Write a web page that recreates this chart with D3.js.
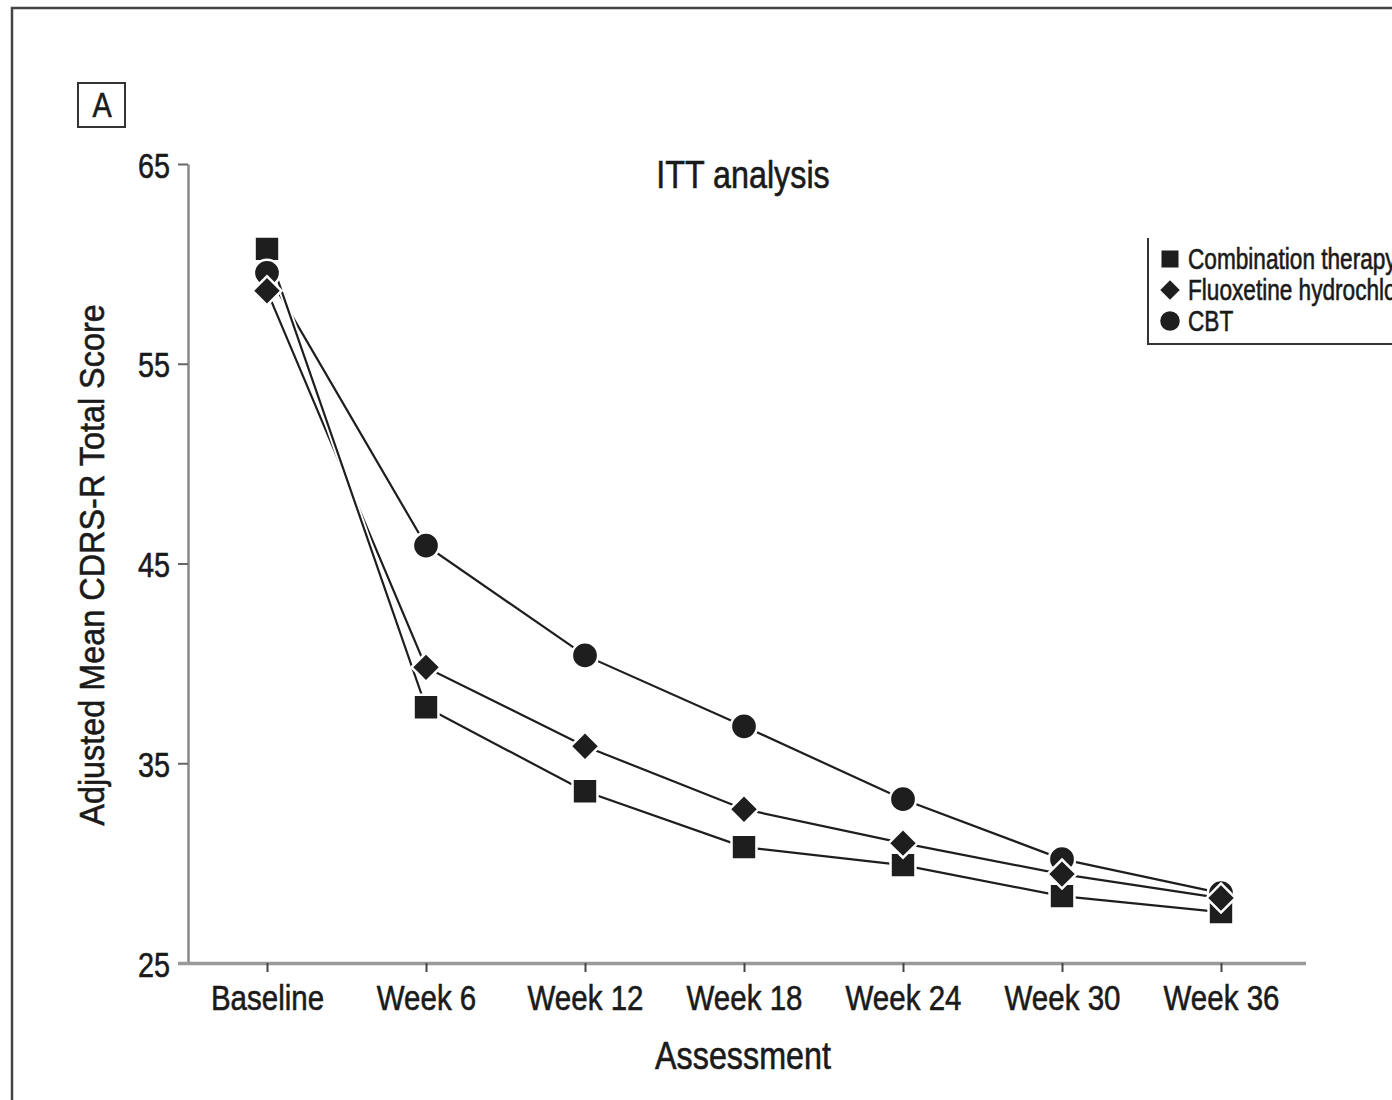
<!DOCTYPE html>
<html><head><meta charset="utf-8">
<script src="https://cdn.jsdelivr.net/npm/d3@7"></script>
<style>
html,body{margin:0;padding:0;background:#fff;}
svg text{font-family:"Liberation Sans",Arial,sans-serif;fill:#1a1a1a;stroke:#1a1a1a;stroke-width:0.6px;}
</style></head>
<body>
<svg id="c" width="1392" height="1100"></svg>
<script>
const categories = ["Baseline","Week 6","Week 12","Week 18","Week 24","Week 30","Week 36"];
const combination = [60.75, 37.8, 33.6, 30.8, 29.9, 28.35, 27.55];
const fluoxetine = [58.65, 39.8, 35.85, 32.7, 31.0, 29.45, 28.25];
const cbt = [59.55, 45.9, 40.4, 36.85, 33.2, 30.2, 28.5];
const yTicks = [25, 35, 45, 55, 65];
const seriesNames = ["Combination therapy","Fluoxetine hydrochloride","CBT"];

const svg = d3.select("#c");
const ink = "#1e1e1e";

function ctext(parent, x, y, str, size, anchor, sx, extra){
  return parent.append("text")
    .attr("transform", `translate(${x},${y})` + (extra||"") + ` scale(${sx},1)`)
    .attr("text-anchor", anchor||"start").attr("font-size", size).text(str);
}

// outer frame
svg.append("path").attr("d","M12,1110 L12,8 L1400,8").attr("fill","none").attr("stroke","#444").attr("stroke-width",2.5);

const x = d3.scalePoint().domain(categories).range([267,1221]);
const y = d3.scaleLinear().domain([25,65]).range([963,164]);

// panel label A
svg.append("rect").attr("x",78).attr("y",83).attr("width",47).attr("height",44).attr("fill","none").attr("stroke","#333").attr("stroke-width",2);
ctext(svg, 102, 117, "A", 36, "middle", 0.8);

// y axis
const yAxis = d3.axisLeft(y).tickValues(yTicks).tickSize(10).tickSizeOuter(0);
const gy = svg.append("g").attr("transform","translate(188,0)").call(yAxis);
gy.attr("font-family",null).attr("font-size",null);
gy.select(".domain").attr("stroke","#888").attr("stroke-width",2.5);
gy.selectAll(".tick line").attr("stroke","#666").attr("stroke-width",2);
gy.selectAll(".tick text").attr("font-size",36).attr("x",0).attr("dy",null).attr("fill",null)
  .attr("transform",`translate(-18,13) scale(0.8,1)`);

// x axis
const xAxis = d3.axisBottom(x).tickSize(9).tickSizeOuter(0);
const gx = svg.append("g").attr("transform","translate(0,963)").call(xAxis);
gx.attr("font-family",null).attr("font-size",null);
gx.select(".domain").attr("d","M178,0.5H1306").attr("stroke","#999").attr("stroke-width",3.5);
gx.selectAll(".tick line").attr("stroke","#444").attr("stroke-width",2);
gx.selectAll(".tick text").attr("font-size",36).attr("y",0).attr("dy",null).attr("fill",null)
  .attr("transform",`translate(0,47) scale(0.82,1)`);

// axis titles
ctext(svg, 743, 1069, "Assessment", 38, "middle", 0.85);
ctext(svg, 104, 565, "Adjusted Mean CDRS-R Total Score", 36, "middle", 0.9, " rotate(-90)");
ctext(svg, 743, 188, "ITT analysis", 38, "middle", 0.85);

const data = [
  {name:seriesNames[0], vals:combination, shape:d3.symbolSquare, size:620, rot:0},
  {name:seriesNames[1], vals:fluoxetine, shape:d3.symbolSquare, size:420, rot:45},
  {name:seriesNames[2], vals:cbt, shape:d3.symbolCircle, size:540, rot:0}
];

const line = d3.line().x((d,i)=>x(categories[i])).y(d=>y(d));

data.slice().reverse().forEach(s=>{
  svg.append("path").attr("d",line(s.vals)).attr("fill","none").attr("stroke","#fff").attr("stroke-width",6);
  svg.append("path").attr("d",line(s.vals)).attr("fill","none").attr("stroke",ink).attr("stroke-width",2.2);
});

const order = [data[0], data[2], data[1]];
order.forEach(s=>{
  svg.append("g").selectAll("path").data(s.vals).join("path")
    .attr("transform",(d,i)=>`translate(${x(categories[i])},${y(d)}) rotate(${s.rot})`)
    .attr("d",d3.symbol().type(s.shape).size(s.size)())
    .attr("fill",ink).attr("stroke","#fff").attr("stroke-width",2.5);
});

// legend
svg.append("path").attr("d","M1148,238 L1148,344 L1400,344").attr("fill","none").attr("stroke","#333").attr("stroke-width",2);
const legY = [259,290,321];
const legSize = [290, 190, 300];
data.forEach((s,i)=>{
  svg.append("path").attr("transform",`translate(1170,${legY[i]}) rotate(${s.rot})`)
    .attr("d",d3.symbol().type(s.shape).size(legSize[i])()).attr("fill",ink);
  ctext(svg, 1188, legY[i]+10, s.name, 29, "start", 0.78);
});
</script>
</body></html>
